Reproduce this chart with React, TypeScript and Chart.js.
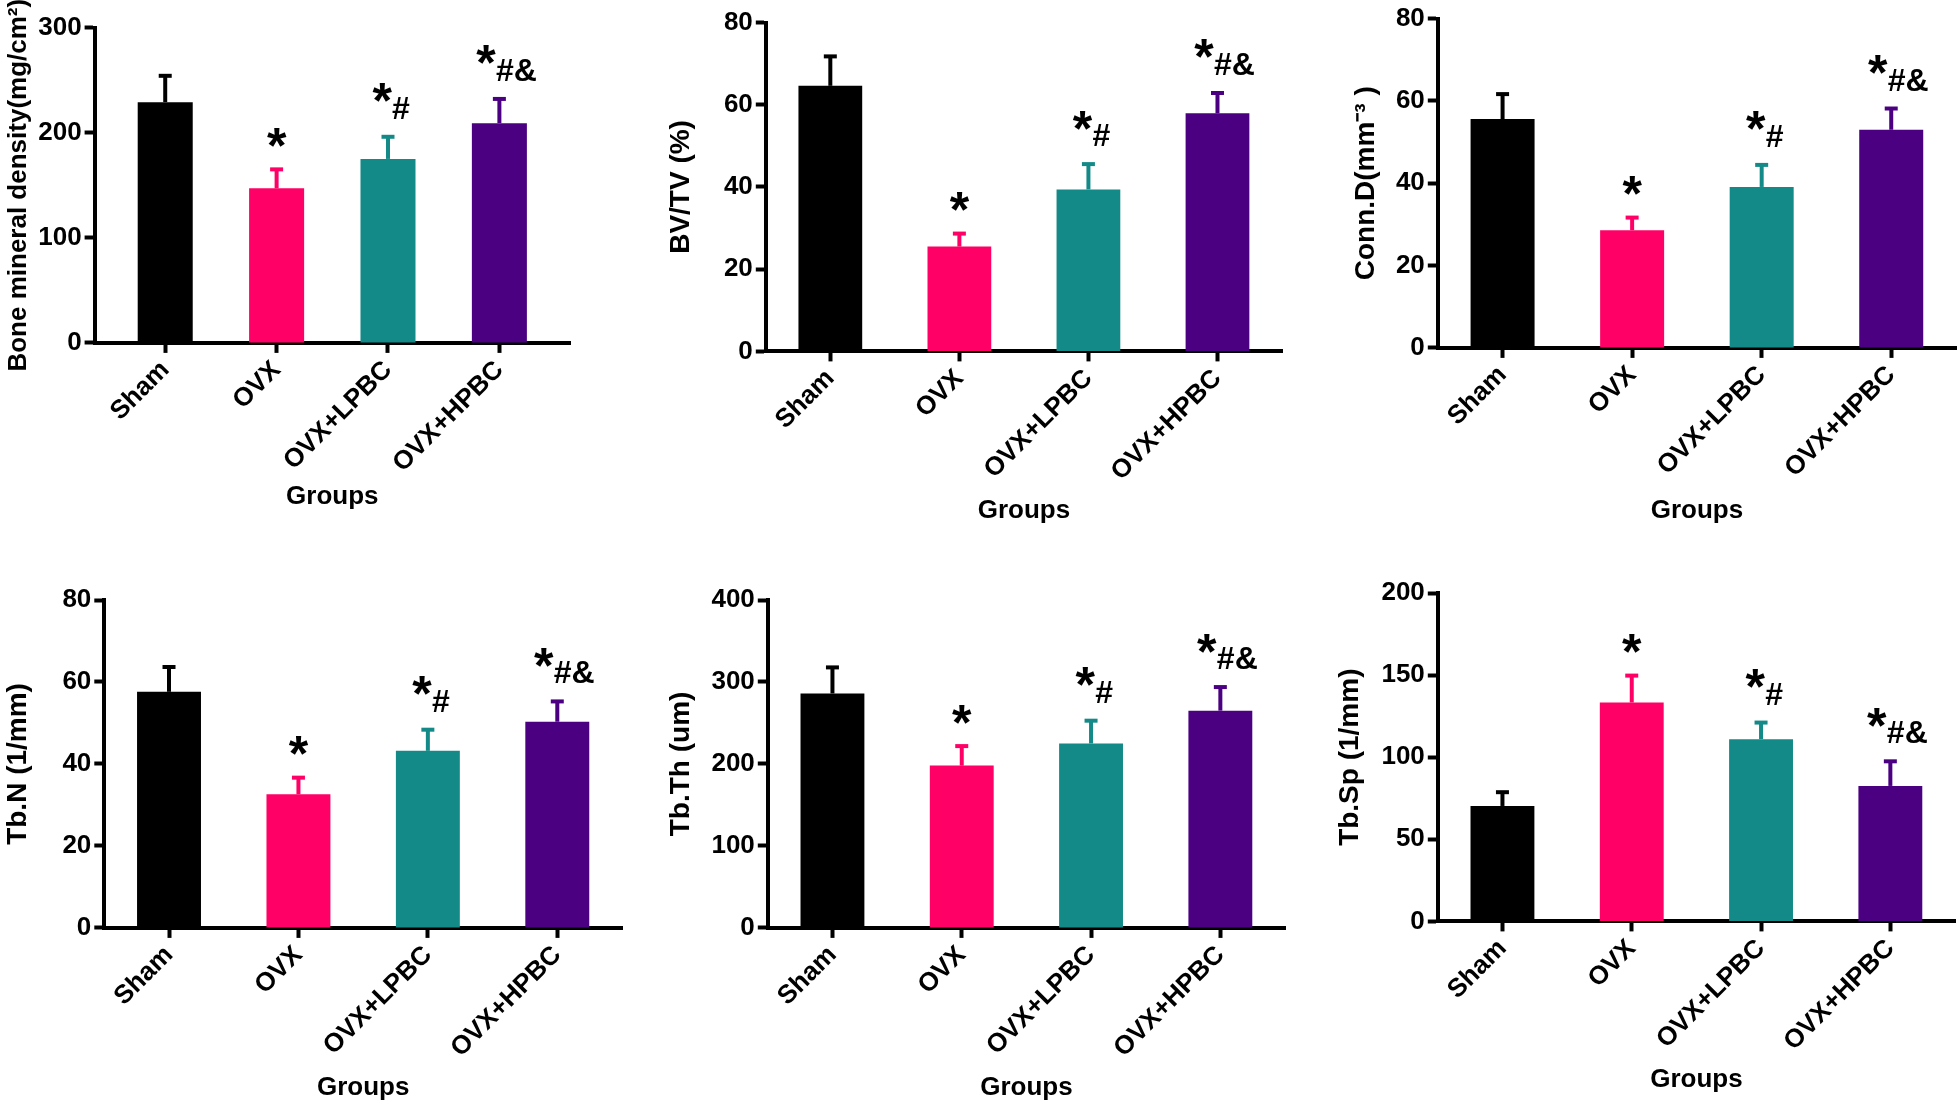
import React, { useEffect, useRef } from "react";
import { Chart, registerables } from "chart.js";
Chart.register(...registerables);

// ---------- data ----------
const groups = ["Sham", "OVX", "OVX+LPBC", "OVX+HPBC"];
const barColors = ["#000000", "#FF0066", "#138A87", "#4B0082"];

const bmdMean = [229, 147, 175, 209];
const bmdErr = [26, 19, 22, 24];
const bvtvMean = [64.6, 25.5, 39.4, 57.9];
const bvtvErr = [7.4, 3.4, 6.4, 5.2];
const connMean = [55.6, 28.6, 39.1, 53.0];
const connErr = [6.3, 3.3, 5.6, 5.4];
const tbnMean = [57.6, 32.6, 43.2, 50.3];
const tbnErr = [6.3, 4.3, 5.4, 5.2];
const tbthMean = [286, 198, 225, 265];
const tbthErr = [33, 25, 29, 30];
const tbspMean = [70.3, 133.3, 111, 82.5];
const tbspErr = [9, 17, 10.7, 15.6];

const signifStar = ["", "*", "*", "*"];
const signifSub = ["", "", "#", "#&"];

// ---------- layout ----------
const FONT = "'Liberation Sans', Arial, Helvetica, sans-serif";
const TICK_SIZE = 26;
const GROUPS_SIZE = 26;
const GROUPS_LH = GROUPS_SIZE * 1.2;

type Panel = {
  title: string; titleSize: number; mean: number[]; err: number[]; yMax: number; yStep: number;
  axisX: number; right: number; top: number; bottom: number; titleX: number; groupsY: number; margin: number;
};

const panels: Panel[] = [
  { title: "Bone mineral density(mg/cm²)", titleSize: 26, mean: bmdMean, err: bmdErr, yMax: 300, yStep: 100,
    axisX: 95, right: 570, top: 27.5, bottom: 342.5, titleX: 19, groupsY: 496, margin: 0.634 },
  { title: "BV/TV (%)", titleSize: 28, mean: bvtvMean, err: bvtvErr, yMax: 80, yStep: 20,
    axisX: 766, right: 1282, top: 22.5, bottom: 351, titleX: 681, groupsY: 510, margin: 0.5 },
  { title: "Conn.D(mm⁻³ )", titleSize: 28, mean: connMean, err: connErr, yMax: 80, yStep: 20,
    axisX: 1438, right: 1956, top: 16, bottom: 347.5, titleX: 1366, groupsY: 510, margin: 0.5 },
  { title: "Tb.N (1/mm)", titleSize: 28, mean: tbnMean, err: tbnErr, yMax: 80, yStep: 20,
    axisX: 104, right: 622, top: 600, bottom: 927.5, titleX: 17.5, groupsY: 1087, margin: 0.5 },
  { title: "Tb.Th (um)", titleSize: 28, mean: tbthMean, err: tbthErr, yMax: 400, yStep: 100,
    axisX: 768, right: 1285, top: 600, bottom: 927.5, titleX: 681, groupsY: 1087, margin: 0.5 },
  { title: "Tb.Sp (1/mm)", titleSize: 28, mean: tbspMean, err: tbspErr, yMax: 200, yStep: 50,
    axisX: 1438, right: 1955, top: 592.5, bottom: 921, titleX: 1350, groupsY: 1079, margin: 0.5 },
];

const STAR_SIZE = 50;
const SUB_SIZE = 32;

const errPlugin = {
  id: "errAnnot",
  afterDatasetsDraw(chart: any, _args: any, opts: any) {
    const p: Panel = opts.panel;
    const { ctx } = chart;
    const y = chart.scales.y;
    const meta = chart.getDatasetMeta(0);
    meta.data.forEach((bar: any, i: number) => {
      const cx = bar.x;
      const yTop = y.getPixelForValue(p.mean[i]);
      const yErr = y.getPixelForValue(p.mean[i] + p.err[i]);
      ctx.save();
      ctx.strokeStyle = barColors[i];
      ctx.lineWidth = 4;
      ctx.lineCap = "butt";
      ctx.beginPath();
      ctx.moveTo(cx, yTop);
      ctx.lineTo(cx, yErr);
      ctx.stroke();
      ctx.beginPath();
      ctx.moveTo(cx - 6.5, yErr + 1);
      ctx.lineTo(cx + 6.5, yErr + 1);
      ctx.stroke();

      const star = signifStar[i];
      const sub = signifSub[i];
      ctx.fillStyle = "#000";
      if (star) {
        ctx.font = `bold ${STAR_SIZE}px ${FONT}`;
        const m = ctx.measureText(star);
        const asc = m.actualBoundingBoxAscent;
        const desc = m.actualBoundingBoxDescent;
        let subW = 0;
        if (sub) {
          ctx.font = `bold ${SUB_SIZE}px ${FONT}`;
          subW = ctx.measureText(sub).width;
        }
        const starCx = sub ? cx - subW * 0.33 : cx;
        const starCy = sub ? yErr - 43 : yErr - 31;
        ctx.font = `bold ${STAR_SIZE}px ${FONT}`;
        ctx.textAlign = "center";
        ctx.textBaseline = "alphabetic";
        ctx.fillText(star, starCx, starCy + (asc - desc) / 2);
        if (sub) {
          ctx.font = `bold ${SUB_SIZE}px ${FONT}`;
          const ms = ctx.measureText(sub);
          const a2 = ms.actualBoundingBoxAscent;
          const d2 = ms.actualBoundingBoxDescent;
          ctx.textAlign = "left";
          ctx.fillText(sub, starCx + 10, yErr - 28 + (a2 - d2) / 2);
        }
      }
      ctx.restore();
    });
  },
};

function PanelChart({ p }: { p: Panel }) {
  const ref = useRef<HTMLCanvasElement | null>(null);
  const titleLH = p.titleSize * 1.2;
  const YW = p.axisX - p.titleX + titleLH / 2 + 2;
  const canvasLeft = p.axisX - YW;
  const canvasTop = Math.max(0, p.top - 40);
  const padTop = p.top - canvasTop;
  const padRight = 8;
  const canvasBottom = p.groupsY + GROUPS_LH / 2 + 2;
  const canvasRight = p.right + padRight;
  const W = Math.round(canvasRight - canvasLeft);
  const H = Math.round(canvasBottom - canvasTop);
  const XH = canvasBottom - p.bottom;

  useEffect(() => {
    if (!ref.current) return;
    const chart = new Chart(ref.current, {
      type: "bar",
      data: {
        datasets: [
          {
            data: p.mean.map((v, i) => ({ x: i, y: v })),
            backgroundColor: barColors,
            borderWidth: 0,
            categoryPercentage: 1,
            barPercentage: 0.494,
          } as any,
        ],
      },
      plugins: [errPlugin as any],
      options: {
        animation: false,
        responsive: false,
        devicePixelRatio: 1,
        layout: { padding: { top: padTop, right: padRight, left: 0, bottom: 0 } },
        plugins: {
          legend: { display: false },
          tooltip: { enabled: false },
          errAnnot: { panel: p },
        } as any,
        scales: {
          x: {
            type: "linear",
            min: -p.margin,
            max: 3 + p.margin,
            offset: false,
            z: 1,
            afterBuildTicks: (s: any) => {
              s.ticks = groups.map((_, i) => ({ value: i }));
            },
            afterFit: (s: any) => {
              s.height = XH;
            },
            ticks: {
              callback: (v: any) => groups[v as number] ?? "",
              minRotation: 45,
              maxRotation: 45,
              autoSkip: false,
              includeBounds: false,
              color: "#000",
              font: { family: FONT, size: TICK_SIZE, weight: "bold" },
              padding: 2,
            },
            grid: {
              offset: false,
              drawOnChartArea: false,
              drawTicks: true,
              tickLength: 10,
              tickWidth: 4,
              color: "#000",
            },
            border: { display: true, width: 4, color: "#000" },
            title: {
              display: true,
              text: "Groups",
              color: "#000",
              font: { family: FONT, size: GROUPS_SIZE, weight: "bold" },
              padding: { top: 0, bottom: 2 },
            },
          } as any,
          y: {
            min: 0,
            max: p.yMax,
            z: 1,
            afterFit: (s: any) => {
              s.width = YW;
            },
            ticks: {
              stepSize: p.yStep,
              color: "#000",
              font: { family: FONT, size: TICK_SIZE, weight: "bold" },
              padding: 3,
            },
            grid: {
              drawOnChartArea: false,
              drawTicks: true,
              tickLength: 10,
              tickWidth: 4,
              color: "#000",
            },
            border: { display: true, width: 4, color: "#000" },
            title: {
              display: true,
              text: p.title,
              color: "#000",
              font: { family: FONT, size: p.titleSize, weight: "bold" },
              padding: { top: 2, bottom: 0 },
            },
          } as any,
        },
      },
    });
    return () => chart.destroy();
  }, []);

  return (
    <canvas
      ref={ref}
      width={W}
      height={H}
      style={{ position: "absolute", left: canvasLeft, top: canvasTop, width: W, height: H }}
    />
  );
}

export default function App() {
  return (
    <div
      style={{
        position: "fixed",
        left: 0,
        top: 0,
        width: 1960,
        height: 1104,
        background: "#fff",
        overflow: "hidden",
      }}
    >
      {panels.map((p, i) => (
        <PanelChart key={i} p={p} />
      ))}
    </div>
  );
}
